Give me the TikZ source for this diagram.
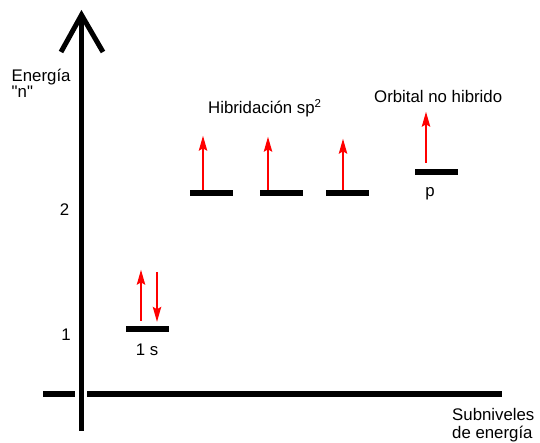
\documentclass[tikz,border=0pt]{standalone}
\usepackage{fontspec}
\setmainfont{Liberation Sans}
\newfontfamily\qfont{Liberation Sans}[Ligatures=TeXOff]
\usetikzlibrary{arrows.meta,calc}
\begin{document}
\begin{tikzpicture}[x=1pt,y=-1pt,
  lvl/.style={fill=black,draw=none,inner sep=0pt,minimum height=6pt,minimum width=43pt},
  lbl/.style={inner sep=0pt,font=\fontsize{16.8}{18}\selectfont},
  el/.style={red,line width=1.3pt,-{Stealth[length=15pt,width=8.5pt,inset=2.5pt]}},
  ax/.style={line width=5pt,line join=miter}]
\useasboundingbox (0,0) rectangle (540,443);
% axes
\coordinate (yl) at (61,52);
\coordinate (ytip) at (81.5,15);
\coordinate (yr) at (103,52);
\coordinate (ybot) at (81.5,431);
\coordinate (xa) at (43,394);
\coordinate (xb) at (75,394);
\coordinate (xc) at (87,394);
\coordinate (xd) at (502,394);
\draw[ax] (yl) -- (ytip) -- (yr);
\draw[ax] (ytip) -- (ybot);
\draw[line width=6pt] (xa) -- (xb);
\draw[line width=6pt] (xc) -- (xd);
% levels
\node[lvl] (s1) at (147.5,329) {};
\node[lvl] (h1) at (211.5,193) {};
\node[lvl] (h2) at (281.5,193) {};
\node[lvl] (h3) at (347.5,193) {};
\node[lvl] (p)  at (436.5,172) {};
% electrons
\draw[el] ($(s1.north)+(-6.5,-5)$) -- ++(0,-51);
\draw[el] ($(s1.north)+(9.5,-54)$) -- ++(0,50);
\draw[el] ($(h1.north)+(-8.5,0)$) -- ++(0,-54);
\draw[el] ($(h2.north)+(-13.5,0)$) -- ++(0,-53);
\draw[el] ($(h3.north)+(-4.5,0)$) -- ++(0,-51);
\draw[el] ($(p.north)+(-10.5,-6)$) -- ++(0,-51);
% labels
\node[lbl,anchor=base west,text depth=0pt] (energia) at (11.5,82) {Energía};
\node[lbl,anchor=base west,text height=9pt] (nq) at (11.5,97.5) {\qfont "n"};
\node[lbl,anchor=base] (two) at (64.5,216) {2};
\node[lbl,anchor=base] (one) at (66,340) {1};
\node[lbl,anchor=base] (s1l) at (147,355) {1 s};
\node[lbl,anchor=base] (pl) at (430,197) {p};
\node[lbl,anchor=base west] (hib) at (208,114) {Hibridación sp\raisebox{6.5pt}{\fontsize{11.5}{12}\selectfont 2}};
\node[lbl,anchor=base west] (orb) at (374,103) {Orbital no hibrido};
\node[lbl,anchor=base west] (sub) at (452,420) {Subniveles};
\node[lbl,anchor=base west] (dee) at (452,438) {de energía};
\end{tikzpicture}
\end{document}
